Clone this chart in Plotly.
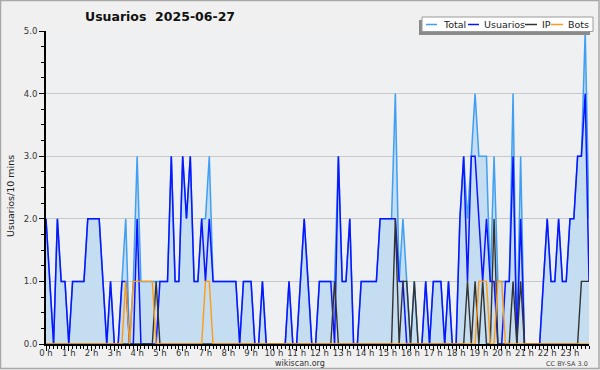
import plotly.graph_objects as go

# ---------------- data (10-minute slots, 2025-06-27) ----------------
slot_minutes = list(range(0, 1440, 10))
hours = [m / 60 for m in slot_minutes]

total = [
    2, 1, 0, 2, 1, 1, 0, 1, 1, 1, 1, 2,
    2, 2, 2, 1, 0, 1, 0, 0, 1, 2, 0, 1,
    3, 1, 1, 1, 1, 1, 1, 1, 1, 3, 1, 1,
    3, 2, 3, 1, 1, 2, 2, 3, 1, 1, 1, 1,
    1, 1, 1, 0, 1, 1, 1, 0, 0, 1, 0, 0,
    0, 0, 0, 0, 1, 0, 0, 1, 2, 1, 0, 0,
    1, 1, 1, 1, 1, 3, 1, 1, 2, 0, 0, 1,
    1, 1, 1, 1, 2, 2, 2, 2, 4, 1, 2, 1,
    0, 1, 0, 0, 1, 0, 1, 1, 1, 0, 1, 0,
    0, 2, 3, 2, 3, 4, 3, 3, 3, 1, 3, 1,
    1, 1, 1, 4, 0, 3, 0, 0, 0, 0, 0, 1,
    2, 1, 1, 2, 1, 1, 2, 2, 3, 3, 5, 2,
]
usuarios = [
    2, 1, 0, 2, 1, 1, 0, 1, 1, 1, 1, 2,
    2, 2, 2, 1, 0, 1, 0, 0, 1, 1, 0, 0,
    2, 0, 0, 0, 0, 0, 1, 1, 1, 3, 1, 1,
    3, 2, 3, 1, 1, 2, 1, 2, 1, 1, 1, 1,
    1, 1, 1, 0, 1, 1, 1, 0, 0, 1, 0, 0,
    0, 0, 0, 0, 1, 0, 0, 1, 2, 1, 0, 0,
    1, 1, 1, 1, 0, 3, 1, 1, 2, 0, 0, 1,
    1, 1, 1, 1, 2, 2, 2, 2, 2, 1, 1, 0,
    0, 0, 0, 0, 1, 0, 1, 1, 1, 0, 1, 0,
    0, 2, 3, 1, 3, 3, 2, 1, 2, 1, 1, 0,
    0, 1, 1, 3, 0, 2, 0, 0, 0, 0, 0, 1,
    2, 1, 1, 2, 1, 1, 2, 2, 3, 3, 4, 1,
]
ip = [
    0, 0, 0, 0, 0, 0, 0, 0, 0, 0, 0, 0,
    0, 0, 0, 0, 0, 0, 0, 0, 0, 0, 0, 0,
    0, 0, 0, 0, 0, 1, 0, 0, 0, 0, 0, 0,
    0, 0, 0, 0, 0, 0, 0, 0, 0, 0, 0, 0,
    0, 0, 0, 0, 0, 0, 0, 0, 0, 0, 0, 0,
    0, 0, 0, 0, 0, 0, 0, 0, 0, 0, 0, 0,
    0, 0, 0, 0, 1, 0, 0, 0, 0, 0, 0, 0,
    0, 0, 0, 0, 0, 0, 0, 0, 2, 0, 1, 1,
    0, 1, 0, 0, 0, 0, 0, 0, 0, 0, 0, 0,
    0, 0, 0, 1, 0, 1, 0, 1, 0, 0, 2, 0,
    0, 0, 0, 1, 0, 1, 0, 0, 0, 0, 0, 0,
    0, 0, 0, 0, 0, 0, 0, 0, 0, 1, 1, 1,
]
bots = [
    0, 0, 0, 0, 0, 0, 0, 0, 0, 0, 0, 0,
    0, 0, 0, 0, 0, 0, 0, 0, 0, 1, 0, 1,
    1, 1, 1, 1, 1, 0, 0, 0, 0, 0, 0, 0,
    0, 0, 0, 0, 0, 0, 1, 1, 0, 0, 0, 0,
    0, 0, 0, 0, 0, 0, 0, 0, 0, 0, 0, 0,
    0, 0, 0, 0, 0, 0, 0, 0, 0, 0, 0, 0,
    0, 0, 0, 0, 0, 0, 0, 0, 0, 0, 0, 0,
    0, 0, 0, 0, 0, 0, 0, 0, 0, 0, 0, 0,
    0, 0, 0, 0, 0, 0, 0, 0, 0, 0, 0, 0,
    0, 0, 0, 0, 0, 0, 1, 1, 1, 0, 0, 1,
    1, 0, 0, 0, 0, 0, 0, 0, 0, 0, 0, 0,
    0, 0, 0, 0, 0, 0, 0, 0, 0, 0, 0, 0,
]

series_names = ["Total", "Usuarios", "IP", "Bots"]
series_colors = ["#3f9ff2", "#0b14ff", "#333333", "#ff9a14"]
fill_color = "#c5ddf0"

title_text = "Usuarios&nbsp;&nbsp;2025-06-27"
y_title = "Usuarios/10 mins"

# ---------------- layout geometry (pixels) ----------------
W, H = 600, 370
L, R, T, B = 46, 589, 31, 344
FONT = "DejaVu Sans, sans-serif"


def px(x):
    return (x - L) / (R - L)


def py(y):
    return (B - y) / (B - T)


fig = go.Figure()
fig.add_trace(go.Scatter(x=hours, y=total, mode="lines", fill="tozeroy",
                         fillcolor=fill_color,
                         line=dict(color=series_colors[0], width=1.5),
                         name=series_names[0]))
fig.add_trace(go.Scatter(x=hours, y=usuarios, mode="lines",
                         line=dict(color=series_colors[1], width=1.5),
                         name=series_names[1]))
fig.add_trace(go.Scatter(x=hours, y=ip, mode="lines",
                         line=dict(color=series_colors[2], width=1.4),
                         name=series_names[2]))
fig.add_trace(go.Scatter(x=hours, y=bots, mode="lines",
                         line=dict(color=series_colors[3], width=1.4),
                         name=series_names[3]))

shapes = []
annotations = []

# outer frame
shapes.append(dict(type="rect", xref="paper", yref="paper",
                   x0=px(0.5), x1=px(599), y0=py(0.5), y1=py(368.5),
                   line=dict(color="#a8a8a8", width=1.5), layer="below"))

# legend: shadow, box, samples, texts
shapes.append(dict(type="rect", xref="paper", yref="paper",
                   x0=px(419), x1=px(590), y0=py(20), y1=py(35),
                   line=dict(width=0), fillcolor="#8a8a8a", layer="above"))
shapes.append(dict(type="rect", xref="paper", yref="paper",
                   x0=px(422), x1=px(593), y0=py(17), y1=py(31.5),
                   line=dict(color="#9a9a9a", width=1), fillcolor="#ffffff",
                   layer="above"))
sample_x = [(426, 437), (468, 479), (525, 537), (551, 563)]
text_x = [442, 483, 541, 567]
for (x0, x1), tx, name, col in zip(sample_x, text_x, series_names, series_colors):
    shapes.append(dict(type="line", xref="paper", yref="paper",
                       x0=px(x0), x1=px(x1), y0=py(24.5), y1=py(24.5),
                       line=dict(color=col, width=1.5), layer="above"))
    annotations.append(dict(text=name, xref="paper", yref="paper",
                            x=px(tx), y=py(24.5), xanchor="left", yanchor="middle",
                            showarrow=False, borderpad=0,
                            font=dict(family=FONT, size=9.5, color="#222222")))

# title
annotations.append(dict(text="<b>" + title_text + "</b>", xref="paper", yref="paper",
                        x=px(84), y=py(16.5), xanchor="left", yanchor="middle",
                        showarrow=False, borderpad=0,
                        font=dict(family=FONT, size=12.5, color="#111111")))
# y-axis title
annotations.append(dict(text=y_title, xref="paper", yref="paper",
                        x=px(10), y=py(196), xanchor="center", yanchor="middle",
                        textangle=-90, showarrow=False, borderpad=0,
                        font=dict(family=FONT, size=9.5, color="#222222")))
# footer
annotations.append(dict(text="wikiscan.org", xref="paper", yref="paper",
                        x=px(300), y=py(363.5), xanchor="center", yanchor="middle",
                        showarrow=False, borderpad=0,
                        font=dict(family=FONT, size=8, color="#333333")))
annotations.append(dict(text="CC BY-SA 3.0", xref="paper", yref="paper",
                        x=px(589), y=py(363.5), xanchor="right", yanchor="middle",
                        showarrow=False, borderpad=0,
                        font=dict(family=FONT, size=6.5, color="#444444")))

fig.update_layout(
    width=W, height=H,
    margin=dict(l=L, r=W - R, t=T, b=H - B, pad=0, autoexpand=False),
    paper_bgcolor="#f0f0f0",
    plot_bgcolor="#eef0f2",
    showlegend=False,
    shapes=shapes,
    annotations=annotations,
    font=dict(family=FONT, size=9, color="#333333"),
)
fig.update_xaxes(
    range=[0, hours[-1]], tickmode="linear", tick0=0, dtick=1,
    ticksuffix=" h", tickformat="d",
    ticks="outside", ticklen=5, tickwidth=1, tickcolor="#000000",
    ticklabelstandoff=-5,
    minor=dict(tickmode="linear", tick0=0, dtick=1 / 6, ticks="outside",
               ticklen=3, tickwidth=1, tickcolor="#000000", showgrid=False),
    showgrid=False, zeroline=False, automargin=False,
    showline=True, linecolor="#000000", linewidth=2,
    tickfont=dict(family=FONT, size=8.5, color="#333333"),
    fixedrange=True,
)
fig.update_yaxes(
    range=[0, 5], tickmode="linear", tick0=0, dtick=1, tickformat=".1f",
    ticks="outside", ticklen=5, tickwidth=1, tickcolor="#000000",
    minor=dict(tickmode="linear", tick0=0, dtick=0.25, ticks="outside",
               ticklen=3, tickwidth=1, tickcolor="#000000", showgrid=False),
    showgrid=True, gridcolor="#c8c8c8", gridwidth=1, zeroline=False,
    automargin=False,
    showline=True, linecolor="#000000", linewidth=2,
    tickfont=dict(family=FONT, size=8.5, color="#333333"),
    fixedrange=True,
)

fig.write_html("out.html")
